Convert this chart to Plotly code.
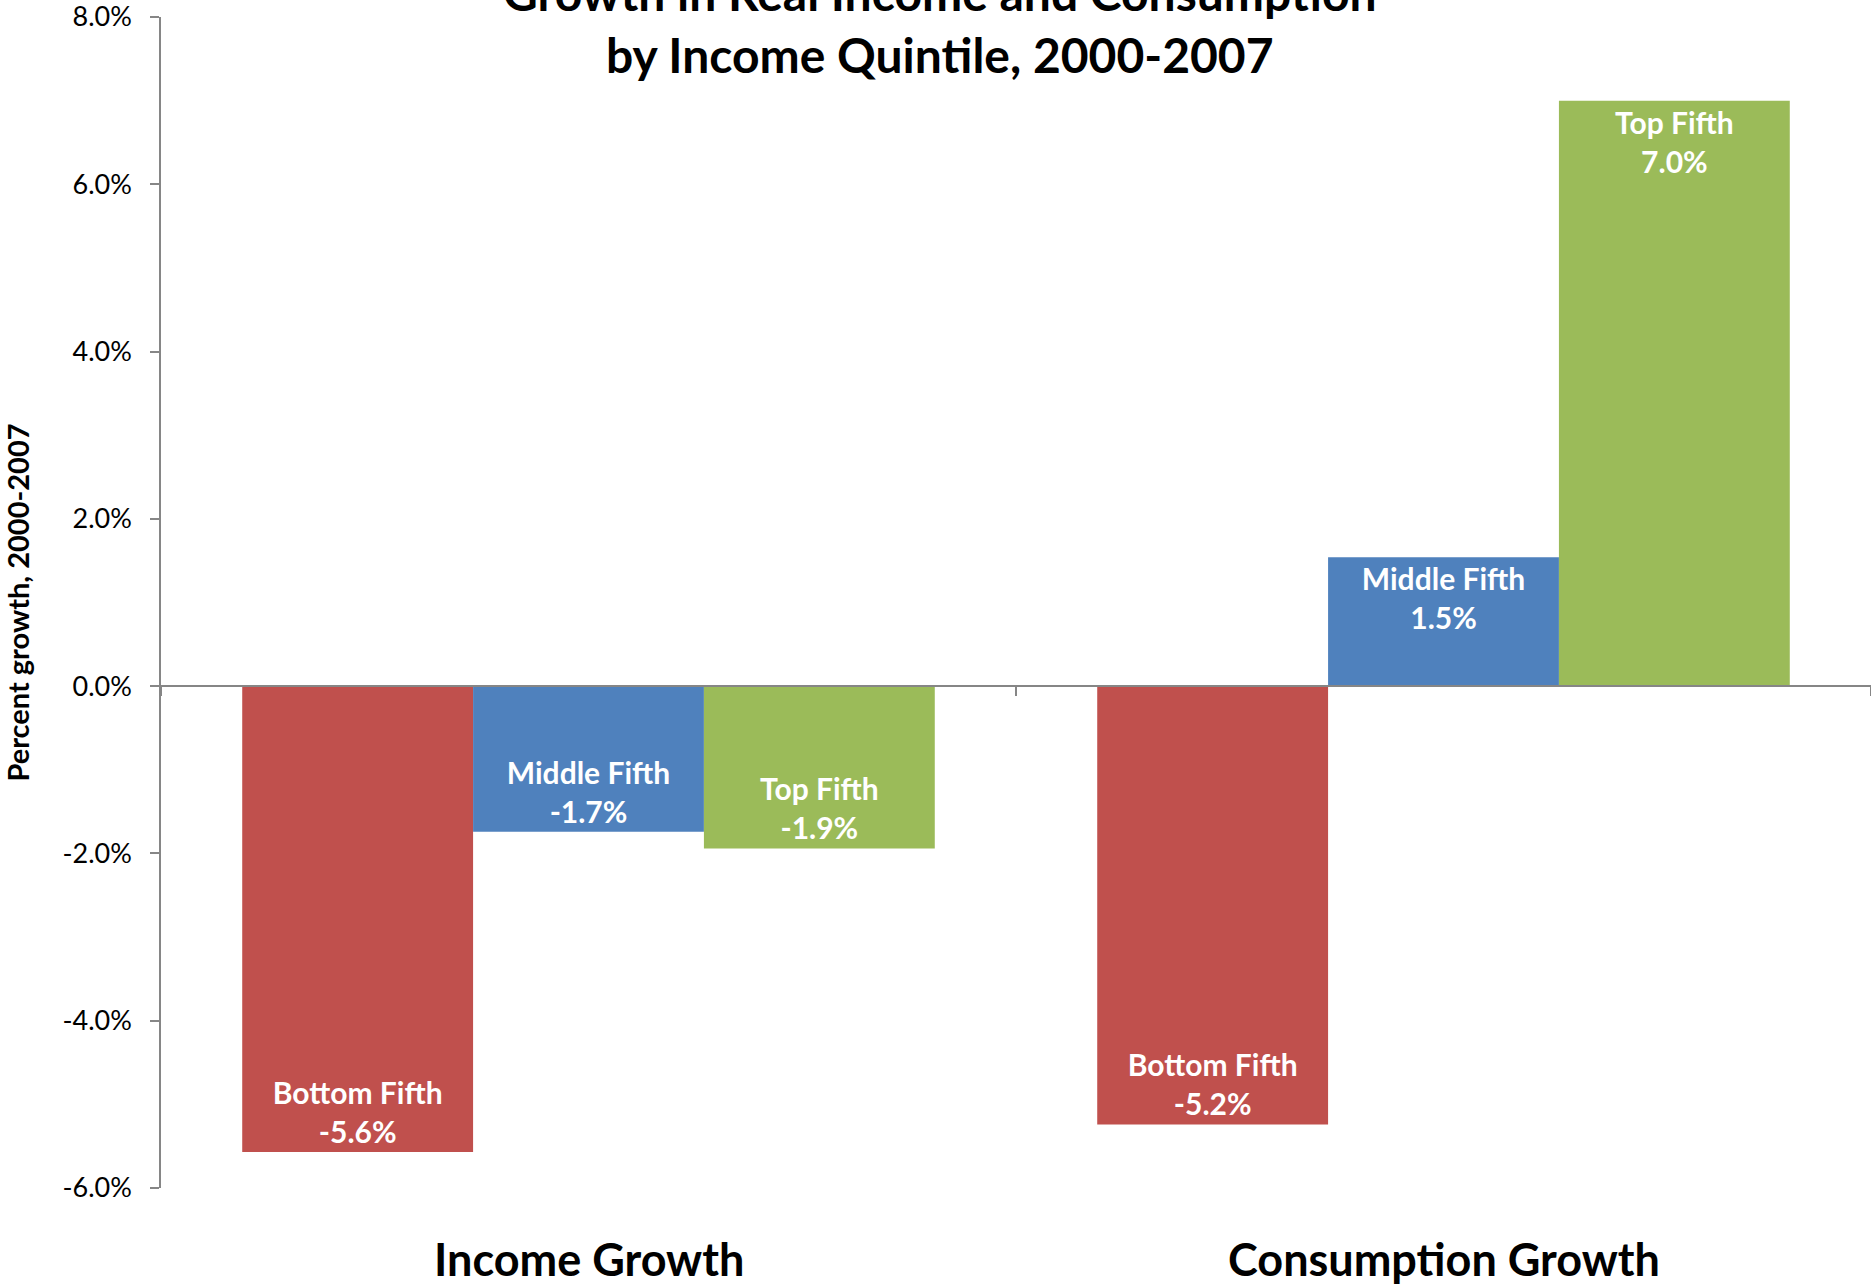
import plotly.graph_objects as go

# ---- data ----
categories = ["Income Growth", "Consumption Growth"]
series_names = ["Bottom Fifth", "Middle Fifth", "Top Fifth"]
bottom_fifth = [-5.57, -5.24]
middle_fifth = [-1.74, 1.54]
top_fifth = [-1.94, 7.0]
series_values = [bottom_fifth, middle_fifth, top_fifth]
series_colors = ["#C0504D", "#4F81BD", "#9BBB59"]
y_tickvals = [-6, -4, -2, 0, 2, 4, 6, 8]
y_ticktext = ["%.1f%%" % v for v in y_tickvals]
y_range = [-6, 8]
title_text = "Growth in Real Income and Consumption<br>by Income Quintile, 2000-2007"
y_title = "Percent growth, 2000-2007"

FONT = "Lato, 'Open Sans', sans-serif"
AXIS_GRAY = "#868686"

fig = go.Figure()
for name, vals, col in zip(series_names, series_values, series_colors):
    fig.add_trace(go.Bar(
        name=name, x=categories, y=vals,
        text=[name] * len(vals),
        marker=dict(color=col, line=dict(width=0)),
        texttemplate="<b>%{text}<br>%{y:.1f}%</b>",
        textposition="inside", insidetextanchor="end",
        textangle=0, constraintext="none",
        textfont=dict(family=FONT, size=30, color="white"),
        showlegend=False,
    ))

zero_frac = (0 - y_range[0]) / (y_range[1] - y_range[0])

fig.update_layout(
    width=1871, height=1286,
    margin=dict(l=161, r=0, t=17, b=98),
    barmode="group", bargap=0.19, bargroupgap=0,
    plot_bgcolor="white", paper_bgcolor="white",
    font=dict(family=FONT, color="black"),
    xaxis=dict(
        type="category", range=[-0.5, 1.5],
        anchor="free", position=zero_frac,
        showline=True, linecolor=AXIS_GRAY, linewidth=1.5,
        ticks="outside", tickson="boundaries", ticklen=9, tickcolor=AXIS_GRAY, tickwidth=1.5,
        showticklabels=False, showgrid=False, zeroline=False,
    ),
    yaxis=dict(
        range=y_range, tickmode="array", tickvals=y_tickvals, ticktext=y_ticktext,
        showline=True, linecolor=AXIS_GRAY, linewidth=1.5,
        ticks="outside", ticklen=9, tickcolor=AXIS_GRAY, tickwidth=1.5,
        showgrid=False, zeroline=False,
        tickfont=dict(family=FONT, size=27, color="black"),
        ticklabelstandoff=13, ticklabeloverflow="allow",
        title=dict(text="<b>" + y_title + "</b>", standoff=24,
                   font=dict(family=FONT, size=29, color="black")),
    ),
)

fig.add_annotation(
    text="<b>" + title_text + "</b>", xref="paper", yref="paper",
    x=(940 - 161) / 1710, y=1, yanchor="bottom", yshift=-68, showarrow=False,
    font=dict(family=FONT, size=48, color="black"), align="center",
)

for cat in categories:
    fig.add_annotation(
        text="<b>" + cat + "</b>", xref="x", yref="paper", x=cat, y=0,
        yanchor="top", yshift=-42, showarrow=False,
        font=dict(family=FONT, size=45, color="black"),
    )

fig.write_html("out.html")
